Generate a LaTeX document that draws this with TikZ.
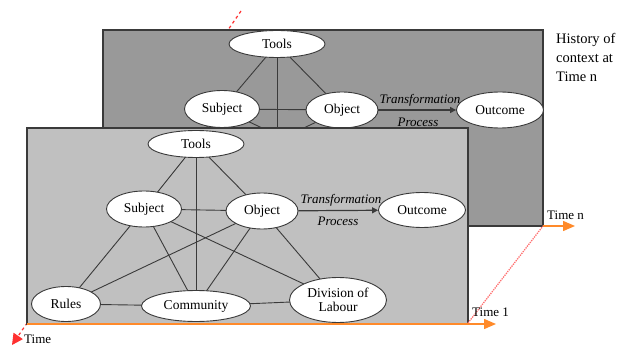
\documentclass[tikz,border=0pt]{standalone}
\usepackage{fontspec}
\setmainfont{Liberation Serif}
\usetikzlibrary{shapes.geometric,arrows.meta}
\definecolor{backgray}{HTML}{999999}
\definecolor{frontgray}{HTML}{C0C0C0}
\definecolor{edgegray}{HTML}{3A3A3A}
\definecolor{timeorange}{HTML}{FF8A2A}
\definecolor{timered}{HTML}{FF3030}
\definecolor{dotred}{HTML}{FF7070}
\begin{document}
\begin{tikzpicture}[x=1pt,y=-1pt,
  ent/.style={ellipse,draw=edgegray,fill=white,line width=0.9pt,inner sep=0pt,font=\fontsize{13.5}{14}\selectfont,align=center},
  link/.style={draw=edgegray,line width=0.9pt},
  flow/.style={draw=edgegray,line width=1.2pt,-{Triangle[length=6pt,width=6pt]}},
  panelbox/.style={draw=edgegray,line width=1.6pt},
  proc/.style={font=\fontsize{13}{14}\selectfont\itshape,inner sep=0pt},
  lbl/.style={font=\fontsize{13}{14}\selectfont,inner sep=0pt,anchor=west},
  axis/.style={timeorange,line width=1.5pt,-{Triangle[length=12pt,width=10pt]}}]
\useasboundingbox (0,0) rectangle (620,347);

% depth axis (mostly hidden behind the panels)
\coordinate (dtop) at (241,11);
\coordinate (dbot) at (12,345);
\draw[timered,dashed,line width=1.2pt,-{Triangle[length=11pt,width=11pt]}] (dtop) -- (dbot);

% ---------- back panel (Time n) ----------
\filldraw[panelbox,fill=backgray] (103,30) rectangle (543,226);
\coordinate (btoolsc) at (277,44);
\coordinate (bsubjc) at (222,109);
\coordinate (bobjc) at (342,110);
\coordinate (brules) at (142,204);
\coordinate (bcomm) at (277,205);
\coordinate (bdiv) at (414,200);
\draw[link] (btoolsc) -- (bsubjc);
\draw[link] (btoolsc) -- (bobjc);
\draw[link] (btoolsc) -- (bcomm);
\draw[link] (bsubjc) -- (bobjc);
\draw[link] (bsubjc) -- (brules);
\draw[link] (bsubjc) -- (bcomm);
\draw[link] (bsubjc) -- (bdiv);
\draw[link] (bobjc) -- (brules);
\draw[link] (bobjc) -- (bcomm);
\draw[link] (bobjc) -- (bdiv);
\node[ent,minimum width=96,minimum height=27] (btools) at (btoolsc) {Tools};
\node[ent,minimum width=75,minimum height=37] (bsubj) at (bsubjc) {Subject};
\node[ent,minimum width=72,minimum height=36] (bobj) at (bobjc) {Object};
\node[ent,minimum width=87,minimum height=36] (bout) at (500,110) {Outcome};
\draw[flow] (bobj) -- (bout);
\node[proc] (btrans) at (420,100) {Transformation};
\node[proc] (bproc) at (418,122) {Process};

% ---------- front panel (Time 1) ----------
\filldraw[panelbox,fill=frontgray] (27,128) rectangle (468,324);
\coordinate (ftoolsc) at (196,144);
\coordinate (fsubjc) at (144,209);
\coordinate (fobjc) at (262,211);
\coordinate (frulesc) at (66,304);
\coordinate (fcommc) at (196,306);
\coordinate (fdivc) at (338,300);
\draw[link] (ftoolsc) -- (fsubjc);
\draw[link] (ftoolsc) -- (fobjc);
\draw[link] (ftoolsc) -- (fcommc);
\draw[link] (fsubjc) -- (fobjc);
\draw[link] (fsubjc) -- (frulesc);
\draw[link] (fsubjc) -- (fcommc);
\draw[link] (fsubjc) -- (fdivc);
\draw[link] (fobjc) -- (frulesc);
\draw[link] (fobjc) -- (fcommc);
\draw[link] (fobjc) -- (fdivc);
\draw[link] (frulesc) -- (fcommc);
\draw[link] (fcommc) -- (fdivc);
\node[ent,minimum width=96,minimum height=27] (ftools) at (ftoolsc) {Tools};
\node[ent,minimum width=75,minimum height=36] (fsubj) at (fsubjc) {Subject};
\node[ent,minimum width=72,minimum height=36] (fobj) at (fobjc) {Object};
\node[ent,minimum width=87,minimum height=35] (fout) at (422,210) {Outcome};
\node[ent,minimum width=69,minimum height=35] (frules) at (frulesc) {Rules};
\node[ent,minimum width=109,minimum height=31] (fcomm) at (fcommc) {Community};
\node[ent,minimum width=97,minimum height=45] (fdiv) at (fdivc) {Division of\\Labour};
\draw[flow] (fobj) -- (fout);
\node[proc] (ftrans) at (341,200) {Transformation};
\node[proc] (fproc) at (338,221) {Process};

% ---------- time axes ----------
\coordinate (t1s) at (27,324);
\coordinate (t1e) at (496,324);
\coordinate (tns) at (543,226);
\coordinate (tne) at (575,226);
\draw[axis] (t1s) -- (t1e);
\draw[axis] (tns) -- (tne);
\draw[dotred,densely dotted,line width=1.3pt] (468,323) -- (tns);
\node[lbl] (time1) at (472,312) {Time 1};
\node[lbl] (timen) at (547,215) {Time n};
\node[lbl] (time0) at (24,339) {Time};
\node[font=\fontsize{14.5}{19}\selectfont,align=left,anchor=north west,inner sep=0pt] (hist) at (556,33) {History of\\context at\\Time n};
\end{tikzpicture}
\end{document}
